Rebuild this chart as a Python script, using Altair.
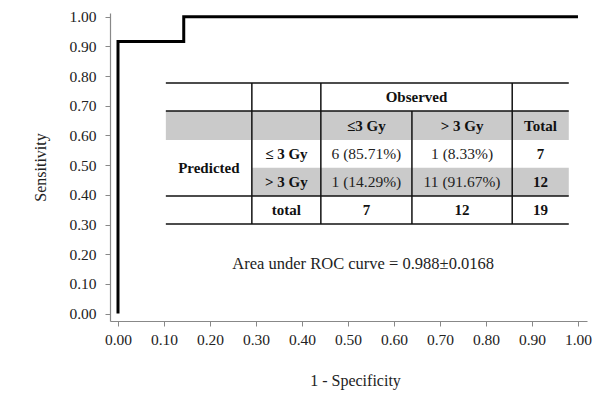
import altair as alt
import pandas as pd

# ROC curve vertices (1 - specificity, sensitivity)
fpr = [0.0, 0.0, 0.1429, 0.1429, 1.0]
tpr = [0.0, 0.9167, 0.9167, 1.0, 1.0]
tick_vals = [0.0, 0.1, 0.2, 0.3, 0.4, 0.5, 0.6, 0.7, 0.8, 0.9, 1.0]

# classification table content
obs_title = "Observed"
pred_title = "Predicted"
col_headers = ["≤3 Gy", "> 3 Gy", "Total"]
row_headers = ["≤ 3 Gy", "> 3 Gy"]
counts = [[6, 1], [1, 11]]
pcts = [["85.71%", "8.33%"], ["14.29%", "91.67%"]]
row_totals = [7, 12]
total_label = "total"
col_totals = [7, 12]
grand_total = 19
auc_text = "Area under ROC curve = 0.988±0.0168"

# table layout, in axis units
col_edges = [0.104, 0.291, 0.441, 0.639, 0.857, 0.980]
row_edges = [0.777, 0.682, 0.585, 0.491, 0.396, 0.302]
auc_pos = (0.533, 0.167)

FONT = "Liberation Serif"
FS = 15

cc = [(col_edges[i] + col_edges[i + 1]) / 2 for i in range(5)]
rc = [(row_edges[i] + row_edges[i + 1]) / 2 for i in range(5)]

curve = pd.DataFrame({"x": fpr, "y": tpr, "o": list(range(len(fpr)))})

texts = []
def add(x, y, t, bold):
    texts.append({"x": x, "y": y, "t": str(t), "b": bold})

add((col_edges[2] + col_edges[4]) / 2, rc[0], obs_title, True)
for j, h in enumerate(col_headers):
    add(cc[2 + j], rc[1], h, True)
add(cc[0], (row_edges[2] + row_edges[4]) / 2, pred_title, True)
for i, h in enumerate(row_headers):
    add(cc[1], rc[2 + i], h, True)
    for j in range(2):
        add(cc[2 + j], rc[2 + i], f"{counts[i][j]} ({pcts[i][j]})", False)
    add(cc[4], rc[2 + i], row_totals[i], True)
add(cc[1], rc[4], total_label, True)
for j in range(2):
    add(cc[2 + j], rc[4], col_totals[j], True)
add(cc[4], rc[4], grand_total, True)
tdf = pd.DataFrame(texts)
auc_df = pd.DataFrame({"x": [auc_pos[0]], "y": [auc_pos[1]], "t": [auc_text]})

hrules = pd.DataFrame({
    "x": [col_edges[0]] * 4,
    "x2": [col_edges[5]] * 4,
    "y": [row_edges[0], row_edges[1], row_edges[4], row_edges[5]],
})
vrules = pd.DataFrame({
    "x": [col_edges[1], col_edges[2], col_edges[3], col_edges[4]],
    "y": [row_edges[0], row_edges[0], row_edges[1], row_edges[0]],
    "y2": [row_edges[5]] * 4,
})
shades = pd.DataFrame({
    "x": [col_edges[0], col_edges[1]],
    "x2": [col_edges[5], col_edges[5]],
    "y": [row_edges[1], row_edges[3]],
    "y2": [row_edges[2], row_edges[4]],
})

xs = alt.Scale(domain=[-0.0174, 1.0196], nice=False, zero=False)
ys = alt.Scale(domain=[-0.025, 1.0125], nice=False, zero=False)
xax = alt.Axis(values=tick_vals, format=".2f", grid=False, title="1 - Specificity",
               titlePadding=25, labelPadding=6, titleX=245)
yax = alt.Axis(values=tick_vals, format=".2f", grid=False, title="Sensitivity",
               titlePadding=20, labelPadding=9)

X = alt.X("x:Q", scale=xs, axis=xax)
Y = alt.Y("y:Q", scale=ys, axis=yax)

shade_l = alt.Chart(shades).mark_rect(color="#cacaca").encode(
    x=X, x2="x2:Q", y=Y, y2="y2:Q")
h_l = alt.Chart(hrules).mark_rule(color="#111111", strokeWidth=1.5).encode(
    x=X, x2="x2:Q", y=Y)
v_l = alt.Chart(vrules).mark_rule(color="#111111", strokeWidth=1.5).encode(
    x=X, y=Y, y2="y2:Q")
tb = alt.Chart(tdf).transform_filter("datum.b").mark_text(
    font=FONT, fontSize=FS, fontWeight="bold", color="#111111", baseline="middle", align="center"
).encode(x=X, y=Y, text="t:N")
tn = alt.Chart(tdf).transform_filter("!datum.b").mark_text(
    font=FONT, fontSize=15.5, color="#222222", baseline="middle", align="center"
).encode(x=X, y=Y, text="t:N")
auc_l = alt.Chart(auc_df).mark_text(
    font=FONT, fontSize=16.5, color="#222222", baseline="middle", align="center"
).encode(x=X, y=Y, text="t:N")
line_l = alt.Chart(curve).mark_line(color="black", strokeWidth=3).encode(
    x=X, y=Y, order="o:Q")

chart = alt.layer(shade_l, h_l, v_l, tb, tn, auc_l, line_l).properties(
    width=477, height=308,
    autosize=alt.AutoSizeParams(type="none"),
    padding={"left": 102, "top": 5, "right": 13, "bottom": 73},
).configure_view(stroke=None).configure_axis(
    labelFont=FONT, titleFont=FONT, labelFontSize=15.5, titleFontSize=16,
    titleFontWeight="normal", labelColor="#222222", titleColor="#222222",
    domainColor="#888888", tickColor="#888888", tickSize=5, domainWidth=1.2,
)

chart.save("out.html", embed_options={"renderer": "svg", "actions": False})
